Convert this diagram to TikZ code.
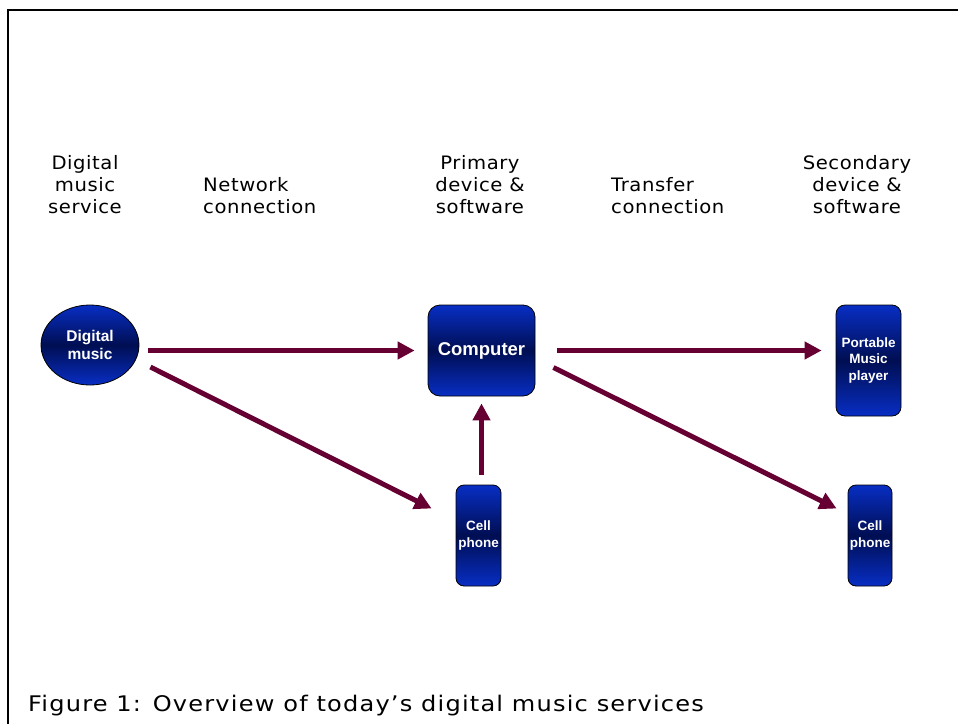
\documentclass[tikz,border=0pt]{standalone}
\usepackage{fontspec}
\setmainfont{DejaVu Sans}
\newfontfamily\nodefont{Liberation Sans}
\newfontfamily\hdrfont[FakeStretch=1.06,LetterSpace=3]{DejaVu Sans}
\newfontfamily\capfont[FakeStretch=1.12,LetterSpace=5.5]{DejaVu Sans}
\usetikzlibrary{arrows.meta,shapes.geometric}
\definecolor{bblue}{RGB}{8,46,196}
\definecolor{dnavy}{RGB}{0,14,82}
\definecolor{arrowc}{RGB}{102,0,51}
\tikzset{
  dev/.style={draw=black, line width=0.8pt, top color=bblue, bottom color=bblue, middle color=dnavy,
    text=white, font=\nodefont\bfseries, align=center, inner sep=0pt},
  hdr/.style={font=\hdrfont\fontsize{18.5}{22}\selectfont, text=black, inner sep=0pt},
  arr/.style={draw=arrowc, line width=5pt, -{Triangle[length=17pt,width=17pt]}},
}
\begin{document}
\begin{tikzpicture}[x=1pt,y=-1pt]
\useasboundingbox (0,0) rectangle (958,723);
\fill[white] (0,0) rectangle (958,723);
\draw[line width=2pt] (958,10) -- (8,10) -- (8,724);
% headers
\node[hdr, align=center] (h1) at (85,185) {Digital\\music\\service};
\node[hdr, align=left, anchor=west] (h2) at (203,196) {Network\\connection};
\node[hdr, align=center] (h3) at (480,185) {Primary\\device \&\\software};
\node[hdr, align=left, anchor=west] (h4) at (611,196) {Transfer\\connection};
\node[hdr, align=center] (h5) at (857,185) {Secondary\\device \&\\software};
% devices
\node[dev, ellipse, minimum width=98pt, minimum height=80pt, font=\nodefont\bfseries\fontsize{15.5}{18}\selectfont] (dm) at (90,345) {Digital\\music};
\node[dev, rounded corners=12pt, minimum width=107pt, minimum height=91pt, font=\nodefont\bfseries\fontsize{18.5}{21}\selectfont] (comp) at (481.5,350.5) {Computer};
\node[dev, rounded corners=9pt, minimum width=65pt, minimum height=111pt, font=\nodefont\bfseries\fontsize{13.5}{16.5}\selectfont] (pmp) at (868.5,360.5) {Portable\\Music\\player};
\node[dev, rounded corners=8pt, minimum width=45pt, minimum height=101pt, font=\nodefont\bfseries\fontsize{13.5}{17}\selectfont] (cp1) at (478.5,535.5) {Cell\\phone};
\node[dev, rounded corners=8pt, minimum width=44pt, minimum height=101pt, font=\nodefont\bfseries\fontsize{13.5}{17}\selectfont] (cp2) at (870,535.5) {Cell\\phone};
% connectors
\draw[arr, shorten <=9pt, shorten >=13pt] (dm.east |- comp.west) -- (comp.west);
\draw[arr] ([shift={(11,22)}]dm.east) -- ([shift={(-24,-27)}]cp1.west);
\draw[arr, shorten <=10pt, shorten >=7pt] (cp1.north -| comp.south) -- (comp.south);
\draw[arr, shorten <=22pt, shorten >=14pt] (comp.east) -- (comp.east -| pmp.west);
\draw[arr] ([shift={(18,17)}]comp.east) -- ([shift={(-11,-27)}]cp2.west);
% caption
\node[anchor=west, inner sep=0pt, font=\capfont\fontsize{21.5}{24}\selectfont] (cap) at (28,706) {Figure 1: Overview of today’s digital music services};
\end{tikzpicture}
\end{document}
